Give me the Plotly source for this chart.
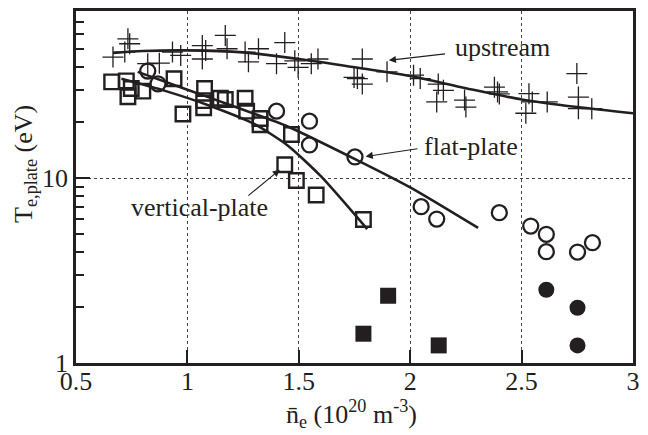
import plotly.graph_objects as go
import numpy as np

# upstream (crosses)
up_x = [0.666, 0.719, 0.733, 0.741, 0.822, 0.874, 0.933, 0.97, 1.067, 1.067, 1.082, 1.17, 1.178,
        1.259, 1.274, 1.319, 1.40, 1.437, 1.482, 1.497, 1.556, 1.586, 1.748, 1.785, 1.763, 1.785,
        1.896, 2.015, 2.045, 2.126, 2.149, 2.119, 2.244, 2.25, 2.378, 2.392, 2.40, 2.533, 2.548,
        2.519, 2.615, 2.748, 2.755, 2.755, 2.815]
up_y = [45.1, 48, 56.6, 53.2, 41.5, 41.8, 48, 46, 52, 44, 49, 59, 50,
        48, 42.5, 50, 41.5, 54, 43, 39.7, 41.5, 44, 35, 44, 34.5, 32.2,
        37.5, 36, 34.5, 32.2, 29.8, 25.8, 26.4, 24.2, 31, 29.2, 28.5, 28.6, 25.8,
        22.4, 25.8, 36.7, 27.4, 23.7, 23.7]

# vertical-plate (open squares)
vp_x = [0.66, 0.726, 0.748, 0.733, 0.80, 0.94, 0.98, 1.077, 1.073, 1.073, 1.148, 1.17, 1.259,
        1.266, 1.326, 1.326, 1.467, 1.437, 1.489, 1.578, 1.79]
vp_y = [33.1, 33.5, 30.5, 27.5, 29.5, 34.4, 22.2, 30.5, 26.2, 24.0, 27, 26.6, 27,
        23.0, 21, 19.4, 17.2, 11.8, 9.7, 8.1, 5.97]

# flat-plate (open circles)
fp_x = [0.822, 0.868, 1.40, 1.548, 1.548, 1.752, 2.049, 2.119, 2.40, 2.541, 2.611, 2.611, 2.751, 2.818]
fp_y = [37.9, 32.3, 23, 20.3, 15.1, 13.0, 7.0, 6.0, 6.5, 5.5, 4.96, 4.0, 3.98, 4.47]

# detached (filled)
vpd_x = [1.79, 1.901, 2.128]
vpd_y = [1.44, 2.31, 1.245]
fpd_x = [2.611, 2.751, 2.751]
fpd_y = [2.49, 1.99, 1.245]

# fit curves (read points)
up_fit_x = [0.666, 0.8, 1.0, 1.25, 1.5, 1.75, 2.0, 2.25, 2.5, 2.75, 3.0]
up_fit_y = [47.5, 48.6, 49.0, 47.8, 44.0, 39.7, 35.6, 30.6, 26.6, 24.2, 22.4]
vp_fit_x = [0.704, 0.9, 1.1, 1.3, 1.45, 1.6, 1.807]
vp_fit_y = [34.4, 29.6, 24.6, 19.6, 15.0, 10.2, 5.3]
fp_fit_x = [0.777, 1.0, 1.185, 1.45, 1.75, 2.0, 2.305]
fp_fit_y = [37.5, 30.0, 25.0, 19.0, 12.7, 8.9, 5.37]

x_ticks = [0.5, 1, 1.5, 2, 2.5, 3]
x_ticklabels = ["0.5", "1", "1.5", "2", "2.5", "3"]
y_ticks = [1, 10]
y_ticklabels = ["1", "10"]
y_minor = [2, 3, 4, 5, 6, 7, 8, 9, 20, 30, 40, 50, 60, 70, 80]

INK = "#231f20"
FONT = "Liberation Serif"

fig = go.Figure()
fig.add_trace(go.Scatter(x=up_fit_x, y=up_fit_y, mode="lines", line=dict(color=INK, width=2.6, shape="spline", smoothing=0.8)))
fig.add_trace(go.Scatter(x=vp_fit_x, y=vp_fit_y, mode="lines", line=dict(color=INK, width=2.6, shape="spline", smoothing=0.6)))
fig.add_trace(go.Scatter(x=fp_fit_x, y=fp_fit_y, mode="lines", line=dict(color=INK, width=2.6, shape="spline", smoothing=0.6)))
fig.add_trace(go.Scatter(x=up_x, y=up_y, mode="markers",
                         marker=dict(symbol="cross-thin-open", size=15, color=INK, line=dict(color=INK, width=1.3))))
fig.add_trace(go.Scatter(x=vp_x, y=vp_y, mode="markers",
                         marker=dict(symbol="square-open", size=14.5, color=INK, line=dict(color=INK, width=2.4))))
fig.add_trace(go.Scatter(x=fp_x, y=fp_y, mode="markers",
                         marker=dict(symbol="circle-open", size=15, color=INK, line=dict(color=INK, width=2.3))))
fig.add_trace(go.Scatter(x=vpd_x, y=vpd_y, mode="markers",
                         marker=dict(symbol="square", size=16, color=INK, line=dict(width=0))))
fig.add_trace(go.Scatter(x=fpd_x, y=fpd_y, mode="markers",
                         marker=dict(symbol="circle", size=16, color=INK, line=dict(width=0))))

def arrow(tx, ty, hx, hy):
    fig.add_annotation(x=hx, y=np.log10(hy), ax=tx, ay=np.log10(ty), xref="x", yref="y",
                       axref="x", ayref="y", text="", showarrow=True, arrowhead=2,
                       arrowsize=1.3, arrowwidth=1.1, arrowcolor=INK, standoff=0, startstandoff=0)

arrow(2.163, 47.0, 1.904, 43.3)
arrow(2.039, 14.45, 1.80, 13.08)
arrow(1.2667, 7.91, 1.415, 11.1)

def label(txt, x, y):
    fig.add_annotation(x=x, y=np.log10(y), xref="x", yref="y", text=txt, showarrow=False,
                       font=dict(family=FONT, size=26, color=INK), xanchor="center", yanchor="middle")

label("upstream", 2.416, 50.5)
label("flat-plate", 2.275, 14.9)
label("vertical-plate", 1.055, 6.9)

fig.add_annotation(xref="paper", yref="paper", x=-0.092, y=0.565, textangle=-90,
                   text="T<sub>e,plate</sub> (eV)", showarrow=False,
                   font=dict(family=FONT, size=26, color=INK), xanchor="center", yanchor="middle")
fig.add_annotation(xref="paper", yref="paper", x=0.495, y=-0.144,
                   text="n\u0304<sub>e</sub> (10<sup>20</sup> m<sup>-3</sup>)", showarrow=False,
                   font=dict(family=FONT, size=26, color=INK), xanchor="center", yanchor="middle")

fig.update_layout(
    width=648, height=435,
    margin=dict(l=76, r=10, t=8, b=72),
    paper_bgcolor="white", plot_bgcolor="white",
    showlegend=False,
    font=dict(family=FONT, size=26, color=INK),
    xaxis=dict(range=[0.5, 3], tickvals=x_ticks, ticktext=x_ticklabels,
               ticks="inside", ticklen=13, tickwidth=2, tickcolor=INK,
               showline=True, linewidth=2.6, linecolor=INK, mirror=True,
               showgrid=True, gridcolor="#444", griddash="dot", gridwidth=1,
               zeroline=False, ticklabelstandoff=-7,
               tickfont=dict(family=FONT, size=26, color=INK)),
    yaxis=dict(type="log", range=[0, np.log10(80)], tickvals=y_ticks, ticktext=y_ticklabels,
               ticks="inside", ticklen=14, tickwidth=2, tickcolor=INK,
               showline=True, linewidth=2.6, linecolor=INK, mirror=True,
               showgrid=True, gridcolor="#444", griddash="dot", gridwidth=1,
               zeroline=False, tickfont=dict(family=FONT, size=26, color=INK),
               minor=dict(tickvals=y_minor, ticks="inside", ticklen=8, tickwidth=2,
                          tickcolor=INK, showgrid=False)),
)

fig.write_html("out.html", config={"displayModeBar": False},
               post_script="document.body.style.margin='0';")
